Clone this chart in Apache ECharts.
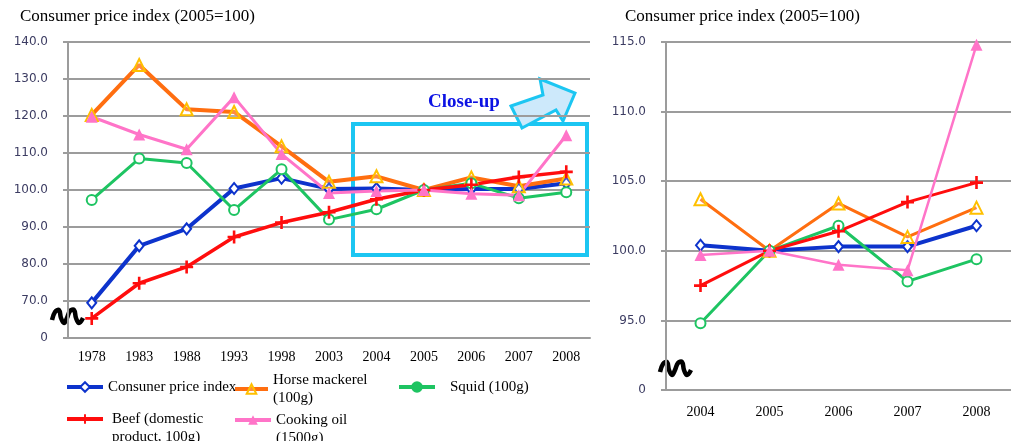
<!DOCTYPE html>
<html>
<head>
<meta charset="utf-8">
<script src="https://cdn.jsdelivr.net/npm/echarts@6/dist/echarts.min.js"></script>
<style>
  html, body { margin: 0; padding: 0; background: #fff; }
  #main { width: 1011px; height: 441px; }
</style>
</head>
<body>
<div id="main"></div>
<script>
// categories (left chart); the close-up uses the last five
const years = ["1978", "1983", "1988", "1993", "1998", "2003", "2004", "2005", "2006", "2007", "2008"];
const closeYears = years.slice(6);

// index values, 2005 = 100
const cpi = [69.5, 84.9, 89.5, 100.4, 103.2, 100.3, 100.4, 100.0, 100.3, 100.3, 101.8];
const horseMackerel = [120.3, 133.8, 121.8, 121.1, 111.8, 102.2, 103.7, 100.0, 103.4, 101.0, 103.1];
const squid = [97.3, 108.5, 107.3, 94.6, 105.6, 92.0, 94.8, 100.0, 101.8, 97.8, 99.4];
const beef = [65.3, 74.8, 79.2, 87.3, 91.2, 94.0, 97.5, 100.0, 101.4, 103.5, 104.9];
const cookingOil = [119.8, 115.0, 111.0, 125.1, 109.7, 99.2, 99.7, 100.0, 99.0, 98.6, 114.8];

// left axis 60..140 (bottom shown as 0), close-up axis 90..115
const leftTicks = { min: 60, max: 140, step: 10 };
const rightTicks = { min: 90, max: 115, step: 5 };

const names = {
  cpi: "Consuner price index",
  horse: "Horse mackerel\n(100g)",
  squid: "Squid (100g)",
  beef: "Beef (domestic\nproduct, 100g)",
  oil: "Cooking oil\n(1500g)"
};

const SERIF = "Liberation Serif";
const GRID_GRAY = "#9c9c9c";
const CROSS = "path://M4,0H6V4H10V6H6V10H4V6H0V4H4Z";

const chart = echarts.init(document.getElementById("main"));

function yAxis(idx, t) {
  return {
    type: "value",
    gridIndex: idx,
    min: t.min,
    max: t.max,
    interval: t.step,
    axisLine: { show: true, lineStyle: { color: GRID_GRAY, width: 2 } },
    axisTick: { show: true, length: 5, lineStyle: { color: GRID_GRAY, width: 2 } },
    axisLabel: {
      margin: 20,
      fontFamily: "DejaVu Sans",
      fontSize: 12,
      color: "#3c3c62",
      formatter: function (v) { return v === t.min ? "0" : v.toFixed(1); }
    },
    splitLine: { lineStyle: { color: GRID_GRAY, width: 2 } }
  };
}

function xAxis(idx, cats, margin) {
  return {
    type: "category",
    gridIndex: idx,
    data: cats,
    boundaryGap: true,
    axisLine: { lineStyle: { color: GRID_GRAY, width: 2 } },
    axisTick: { length: 5, lineStyle: { color: GRID_GRAY, width: 2 } },
    axisLabel: { interval: 0, margin: margin, fontFamily: SERIF, fontSize: 14, color: "#000" }
  };
}

function lines(idx, from, w) {
  const pick = arr => arr.slice(from);
  return [
    {
      name: names.cpi, type: "line", xAxisIndex: idx, yAxisIndex: idx,
      data: pick(cpi), symbol: "diamond", symbolSize: [9, 11],
      lineStyle: { color: "#0d33cc", width: w.cpi },
      itemStyle: { color: "#fff", borderColor: "#0d33cc", borderWidth: 2 }
    },
    {
      name: names.horse, type: "line", xAxisIndex: idx, yAxisIndex: idx,
      data: pick(horseMackerel), symbol: "triangle", symbolSize: 12,
      lineStyle: { color: "#ff6e10", width: w.horse },
      itemStyle: { color: "rgba(255,255,255,0.2)", borderColor: "#ffc000", borderWidth: 2 }
    },
    {
      name: names.squid, type: "line", xAxisIndex: idx, yAxisIndex: idx,
      data: pick(squid), symbol: "circle", symbolSize: 10,
      lineStyle: { color: "#1ec462", width: w.squid },
      itemStyle: { color: "#fff", borderColor: "#1ec462", borderWidth: 2 }
    },
    {
      name: names.beef, type: "line", xAxisIndex: idx, yAxisIndex: idx,
      data: pick(beef), symbol: CROSS, symbolSize: 13,
      lineStyle: { color: "#ff0d0d", width: w.beef },
      itemStyle: { color: "#ff0d0d" }
    },
    {
      name: names.oil, type: "line", xAxisIndex: idx, yAxisIndex: idx,
      data: pick(cookingOil), symbol: "triangle", symbolSize: 12,
      lineStyle: { color: "#ff74c8", width: w.oil },
      itemStyle: { color: "#ff74c8" }
    }
  ];
}

const serifText = { fontFamily: SERIF, fontSize: 15, lineHeight: 18, color: "#000" };

function legendAt(item, left, top, extra) {
  return Object.assign({
    data: [item],
    left: left,
    top: top,
    orient: "horizontal",
    itemWidth: 36,
    itemHeight: 12,
    padding: 0,
    selectedMode: false,
    lineStyle: { width: 4 },
    textStyle: serifText
  }, extra || {});
}

// leading blank line so the first text line sits level with the icon
const hangText = n => "\n" + n;

// wavy axis-break mark
function squiggle(x, y) {
  return {
    type: "polyline",
    x: x, y: y,
    shape: {
      points: [[0, 10], [3, 2], [7, 0], [9, 8], [12, 13], [15, 8], [18, 1], [22, 0], [24, 8], [27, 13], [31, 8]],
      smooth: 0.4
    },
    style: { stroke: "#000", lineWidth: 4.5, fill: null },
    silent: true
  };
}

const option = {
  animation: false,
  title: [
    { text: "Consumer price index (2005=100)", left: 20, top: 8, padding: 0,
      textStyle: { fontFamily: SERIF, fontSize: 17, fontWeight: "normal", color: "#000" } },
    { text: "Consumer price index (2005=100)", left: 625, top: 8, padding: 0,
      textStyle: { fontFamily: SERIF, fontSize: 17, fontWeight: "normal", color: "#000" } }
  ],
  legend: [
    legendAt(names.cpi, 65, 378),
    legendAt(names.horse, 233, 371, { itemWidth: 33 }),
    legendAt({ name: names.squid, itemStyle: { color: "#1ec462" } }, 397, 378, {
      textStyle: Object.assign({}, serifText, { padding: [0, 0, 0, 10] })
    }),
    legendAt(names.beef, 65, 392, {
      formatter: hangText,
      textStyle: Object.assign({}, serifText, { padding: [0, 0, 0, 4] })
    }),
    legendAt({ name: names.oil, itemStyle: { color: "#ff74c8" } }, 233, 393, {
      formatter: hangText
    })
  ],
  grid: [
    { left: 68, top: 42, width: 522, height: 296 },
    { left: 666, top: 42, width: 357.5, height: 348 }
  ],
  xAxis: [xAxis(0, years, 12), xAxis(1, closeYears, 15)],
  yAxis: [yAxis(0, leftTicks), yAxis(1, rightTicks)],
  series: lines(0, 0, { cpi: 4, horse: 4, squid: 3, beef: 3.5, oil: 3 })
    .concat(lines(1, 6, { cpi: 4, horse: 3, squid: 3, beef: 3, oil: 2.5 })),
  graphic: [
    {
      type: "rect",
      shape: { x: 353, y: 124, width: 234, height: 131 },
      style: { fill: null, stroke: "#1cc6f2", lineWidth: 4 },
      silent: true
    },
    {
      type: "polygon",
      shape: { points: [[511, 106], [543, 95], [540, 79], [575, 93], [563, 121], [556, 110], [522, 128]] },
      style: { fill: "#cde9fb", stroke: "#1cc6f2", lineWidth: 3 },
      silent: true
    },
    {
      type: "text",
      style: { text: "Close-up", x: 428, y: 102, verticalAlign: "middle",
        font: "bold 19px 'Liberation Serif'", fill: "#0c12e4" },
      silent: true
    },
    squiggle(52, 310),
    squiggle(660, 362)
  ]
};

chart.setOption(option);
</script>
</body>
</html>
